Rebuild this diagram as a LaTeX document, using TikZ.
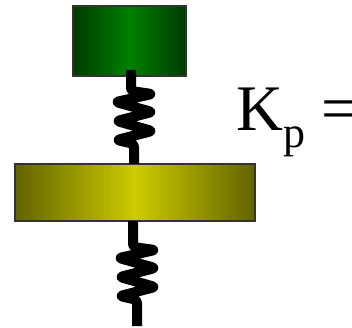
\documentclass[tikz,border=0pt]{standalone}
\usepackage{fontspec}
\setmainfont{Liberation Serif}
\usetikzlibrary{calc}
\definecolor{greenedge}{RGB}{0,58,0}
\definecolor{greenmid}{RGB}{0,128,0}
\definecolor{yellowedge}{RGB}{98,98,0}
\definecolor{yellowmid}{RGB}{204,204,0}
\tikzset{
  blockbox/.style={draw=black!80, line width=1.3pt, inner sep=0pt, outer sep=0pt},
  springline/.style={line width=10pt, line join=round, rounded corners=3pt},
}
\begin{document}
\begin{tikzpicture}[x=1pt, y=-1pt]
  \useasboundingbox (0,0) rectangle (352,328);
  % Blocks
  \node[blockbox, minimum width=113pt, minimum height=70pt, left color=greenedge, right color=greenedge, middle color=greenmid] (topblock) at (129.5,41) {};
  \node[blockbox, minimum width=240pt, minimum height=57pt, left color=yellowedge, right color=yellowedge, middle color=yellowmid] (plateblock) at (135,192.5) {};
  % Upper spring
  \draw[springline] ([xshift=1.5pt, yshift=6pt]topblock.south) -- ++(0,21) -- ++(21,3) -- ++(-36,8) -- ++(36,10) -- ++(-35,9) -- ++(35,10) -- ++(-35,9) -- ++(17,4) -- ([xshift=-1pt]plateblock.north);
  % Lower spring
  \draw[springline] (plateblock.south) ++(-2,0) -- ++(0,26) -- ++(22,3) -- ++(-36,8) -- ++(36,10) -- ++(-35,9) -- ++(35,10) -- ++(-35,9) -- ++(17,4) -- ++(0,26);
  % Label
  \node[anchor=base west, inner sep=0pt, font=\fontsize{65}{65}\selectfont] (kplabel) at (236,131) {K\raisebox{-17pt}{\fontsize{44}{44}\selectfont p} =};
\end{tikzpicture}
\end{document}
